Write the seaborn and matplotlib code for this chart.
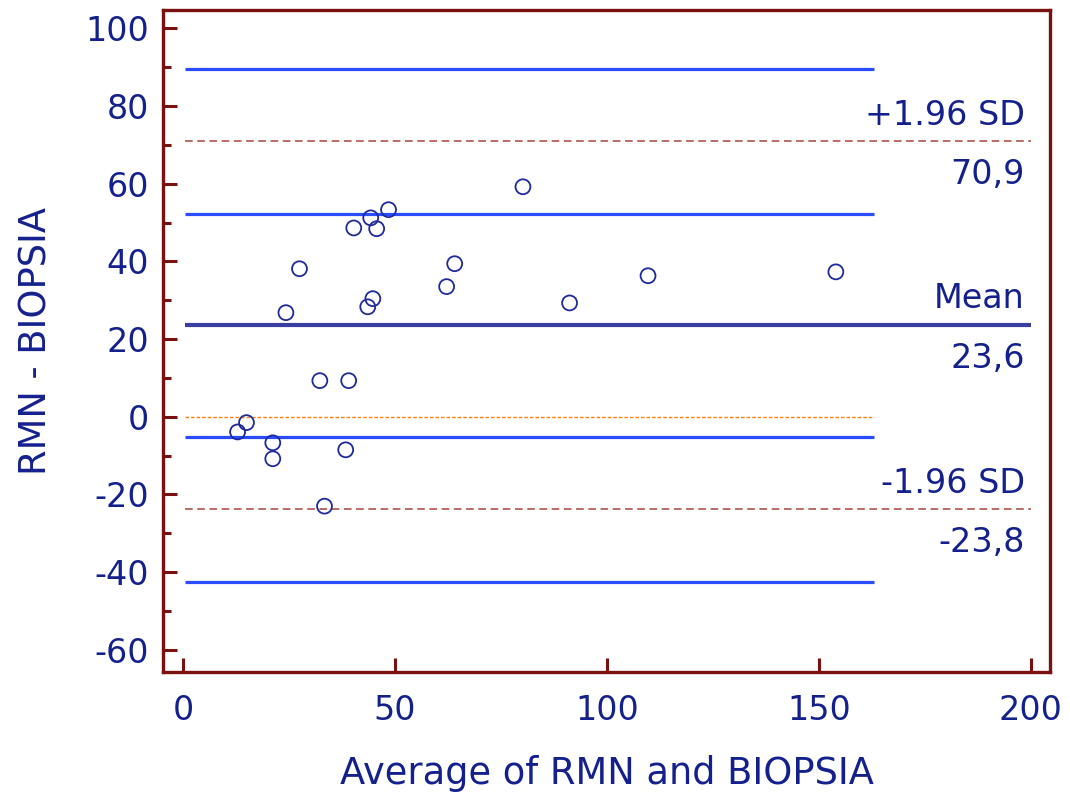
import matplotlib
matplotlib.use("Agg")
import matplotlib.pyplot as plt
import seaborn as sns
import pandas as pd
from matplotlib.ticker import MultipleLocator

# ── Data ──────────────────────────────────────────────────────────────────────
avg_vals = [12.9, 15.0, 21.2, 21.2, 24.3, 27.5, 32.3, 33.4, 38.4, 39.1, 40.3,
            43.6, 44.3, 44.8, 45.7, 48.5, 62.2, 64.1, 80.2, 91.2, 109.7, 154.0]
diff_vals = [-3.9, -1.5, -6.7, -10.8, 26.8, 38.1, 9.3, -23.0, -8.5, 9.3, 48.6,
             28.3, 51.2, 30.4, 48.4, 53.3, 33.5, 39.4, 59.2, 29.3, 36.3, 37.3]

mean_diff = 23.6
upper_loa = 70.9
lower_loa = -23.8
ci_bounds = [89.5, 52.2, -5.1, -42.4]   # CIs of the limits and of the mean
ci_x = [0.5, 163.0]

x_ticks = [0, 50, 100, 150, 200]
y_ticks = [-60, -40, -20, 0, 20, 40, 60, 80, 100]

# ── Colours ───────────────────────────────────────────────────────────────────
TEXT_C = "#14208C"
SPINE_C = "#7A1010"
CI_C = "#2A4BFF"
MEAN_C = "#3A3EA0"
LOA_C = "#A8443A"
ZERO_C = "#FF7F00"
PT_C = "#1E2A9A"

sns.set_style("white")
plt.rcParams["font.family"] = ["DejaVu Sans"]
plt.rcParams["axes.unicode_minus"] = False

df = pd.DataFrame({"avg": avg_vals, "diff": diff_vals})

fig = plt.figure(figsize=(10.7, 7.98), dpi=100)
fig.patch.set_facecolor("white")
ax = fig.add_axes([0.1523, 0.1583, 0.829, 0.8292])

# reference lines
ax.hlines(ci_bounds, ci_x[0], ci_x[1], color=CI_C, linewidth=2.3, zorder=2)
ax.hlines(0, 0.5, ci_x[1], color=ZERO_C, linewidth=1.0,
          linestyles=(0, (2.5, 1.5)), zorder=2)
ax.hlines([upper_loa, lower_loa], 0.5, 200, color=LOA_C, linewidth=1.1,
          linestyles=(0, (5, 3)), zorder=2)
ax.hlines(mean_diff, 0.5, 200, color=MEAN_C, linewidth=3.0, zorder=2)

sns.scatterplot(data=df, x="avg", y="diff", ax=ax, marker="o", s=115,
                facecolor="none", edgecolor=PT_C, linewidth=1.3, zorder=3,
                legend=False)

# labels on the right
lbl_x = 198.6
for y, top, bottom in [(upper_loa, "+1.96 SD", "70,9"),
                       (mean_diff, "Mean", "23,6"),
                       (lower_loa, "-1.96 SD", "-23,8")]:
    ax.annotate(top, (lbl_x, y), xytext=(0, 12), textcoords="offset points",
                ha="right", va="baseline", fontsize=24, color=TEXT_C)
    ax.annotate(bottom, (lbl_x, y), xytext=(0, -12), textcoords="offset points",
                ha="right", va="top", fontsize=24, color=TEXT_C)

ax.set_xlim(-4.7, 204.5)
ax.set_ylim(-65.6, 104.7)
ax.set_xticks(x_ticks)
ax.set_yticks(y_ticks)
ax.yaxis.set_minor_locator(MultipleLocator(10))

ax.tick_params(axis="both", which="major", direction="in", length=10,
               width=2.2, color=SPINE_C, labelcolor=TEXT_C, labelsize=24,
               left=True, bottom=True, top=False, right=False)
ax.tick_params(axis="x", pad=16)
ax.tick_params(axis="y", pad=10)
ax.tick_params(axis="y", which="minor", direction="in", length=5.5,
               width=2.2, color=SPINE_C, left=True, right=False)

for spine in ax.spines.values():
    spine.set_edgecolor(SPINE_C)
    spine.set_linewidth(2.4)

ax.set_xlabel("Average of RMN and BIOPSIA", fontsize=26.5, color=TEXT_C,
              labelpad=20)
ax.set_ylabel("RMN - BIOPSIA", fontsize=26.5, color=TEXT_C, labelpad=22)

fig.savefig("out.png", dpi=100, facecolor="white")
